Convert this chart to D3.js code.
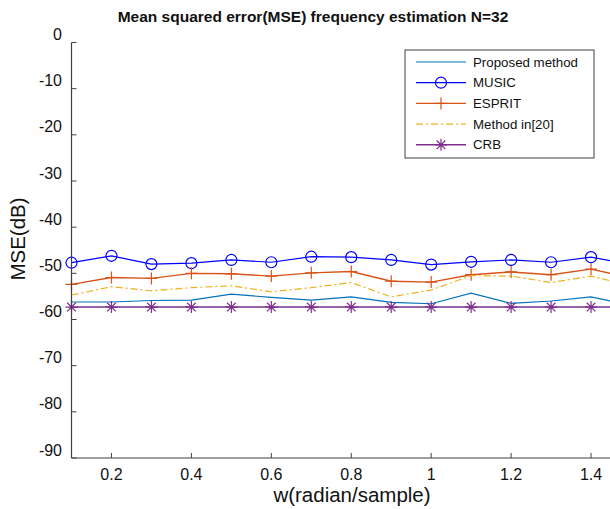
<!DOCTYPE html>
<html><head><meta charset="utf-8">
<script src="https://cdn.jsdelivr.net/npm/d3@7"></script>
<style>body{margin:0;background:#fff}svg{display:block}</style>
</head><body><svg id="c" width="610" height="509"></svg>
<script>
const w = [0.1,0.2,0.3,0.4,0.5,0.6,0.7,0.8,0.9,1.0,1.1,1.2,1.3,1.4,1.5];
const proposed = [-56.2,-56.2,-55.9,-55.8,-54.5,-55.2,-55.8,-55.1,-56.3,-56.6,-54.3,-56.5,-56.0,-55.1,-56.9];
const music    = [-47.7,-46.2,-48.0,-47.8,-47.1,-47.6,-46.4,-46.5,-47.1,-48.1,-47.5,-47.1,-47.6,-46.5,-48.1];
const esprit   = [-52.4,-50.9,-51.1,-50.0,-50.1,-50.6,-49.9,-49.6,-51.7,-51.9,-50.3,-49.7,-50.3,-49.1,-51.0];
const method20 = [-54.7,-52.9,-53.8,-53.1,-52.7,-54.0,-53.1,-52.0,-55.1,-53.6,-50.5,-50.6,-52.0,-50.6,-52.7];
const crb      = [-57.3,-57.3,-57.3,-57.3,-57.3,-57.3,-57.3,-57.3,-57.3,-57.3,-57.3,-57.3,-57.3,-57.3,-57.3];
const seriesNames = ["Proposed method","MUSIC","ESPRIT","Method in[20]","CRB"];
const xTicks = [0.2,0.4,0.6,0.8,1.0,1.2,1.4];
const yTicks = [0,-10,-20,-30,-40,-50,-60,-70,-80,-90];
const titleText = "Mean squared error(MSE) frequency estimation N=32";
const xLabel = "w(radian/sample)";
const yLabel = "MSE(dB)";

const svg = d3.select("#c");
const x = d3.scaleLinear().domain([0.1,1.5]).range([71.5,631]);
const y = d3.scaleLinear().domain([-90,0]).range([458,42.5]);
const font = "'Liberation Sans', Arial, sans-serif";
const axisColor = "#404040";

const series = [
  {name:seriesNames[0], data:proposed, color:"#0072BD", width:1.1, dash:null, marker:null},
  {name:seriesNames[1], data:music, color:"#0000FF", width:1.2, dash:null, marker:"circle"},
  {name:seriesNames[2], data:esprit, color:"#D95319", width:1.4, dash:null, marker:"plus"},
  {name:seriesNames[3], data:method20, color:"#EDB120", width:1.2, dash:"7,3,2,3", marker:null},
  {name:seriesNames[4], data:crb, color:"#7E2F8E", width:1.4, dash:null, marker:"star"}
];

const plot = svg.append("g");
const line = d3.line().x(d=>x(d[0])).y(d=>y(d[1]));

function drawMarker(g, type, cx, cy, color){
  if(type==="circle"){
    g.append("circle").attr("cx",cx).attr("cy",cy).attr("r",5.5)
      .attr("fill","none").attr("stroke",color).attr("stroke-width",1.2);
  } else if(type==="plus"){
    g.append("path").attr("d",`M${cx-6},${cy}H${cx+6}M${cx},${cy-6}V${cy+6}`)
      .attr("stroke",color).attr("stroke-width",1.2).attr("fill","none");
  } else if(type==="star"){
    const r=6, d=r*0.72;
    g.append("path").attr("d",`M${cx-r},${cy}H${cx+r}M${cx},${cy-r}V${cy+r}M${cx-d},${cy-d}L${cx+d},${cy+d}M${cx-d},${cy+d}L${cx+d},${cy-d}`)
      .attr("stroke",color).attr("stroke-width",1.2).attr("fill","none");
  }
}

series.forEach(s=>{
  const pts = w.map((v,i)=>[v,s.data[i]]);
  plot.append("path").attr("d",line(pts)).attr("fill","none")
    .attr("stroke",s.color).attr("stroke-width",s.width)
    .attr("stroke-dasharray",s.dash);
  if(s.marker){
    pts.forEach(p=>drawMarker(plot,s.marker,x(p[0]),y(p[1]),s.color));
  }
});

// axes
const ax = svg.append("g");
ax.append("line").attr("x1",x(0.1)).attr("x2",x(0.1)).attr("y1",y(0)).attr("y2",y(-90))
  .attr("stroke",axisColor).attr("stroke-width",1.2);
ax.append("line").attr("x1",x(0.1)).attr("x2",630).attr("y1",y(-90)).attr("y2",y(-90))
  .attr("stroke",axisColor).attr("stroke-width",1.2);
yTicks.forEach(t=>{
  ax.append("line").attr("x1",x(0.1)).attr("x2",x(0.1)+5).attr("y1",y(t)).attr("y2",y(t))
    .attr("stroke",axisColor).attr("stroke-width",1);
  ax.append("text").attr("x",62).attr("y",y(t)-2.5 + 0).attr("text-anchor","end")
    .attr("font-family",font).attr("font-size",16).attr("fill","#111").text(t);
});
xTicks.forEach(t=>{
  ax.append("line").attr("x1",x(t)).attr("x2",x(t)).attr("y1",y(-90)).attr("y2",y(-90)-5)
    .attr("stroke",axisColor).attr("stroke-width",1);
  ax.append("text").attr("x",x(t)).attr("y",480).attr("text-anchor","middle")
    .attr("font-family",font).attr("font-size",16).attr("fill","#111").text(d3.format("~g")(t));
});

// labels
svg.append("text").attr("x",313).attr("y",22).attr("text-anchor","middle")
  .attr("font-family",font).attr("font-weight","bold").attr("font-size",15.5).attr("fill","#111").text(titleText);
svg.append("text").attr("x",352).attr("y",502).attr("text-anchor","middle")
  .attr("font-family",font).attr("font-size",20.5).attr("fill","#111").text(xLabel);
svg.append("text").attr("transform","translate(25,239) rotate(-90)").attr("text-anchor","middle")
  .attr("font-family",font).attr("font-size",20.5).attr("fill","#111").text(yLabel);

// legend
const lg = svg.append("g");
lg.append("rect").attr("x",405).attr("y",50).attr("width",189).attr("height",108)
  .attr("fill","#fff").attr("stroke",axisColor).attr("stroke-width",1);
series.forEach((s,i)=>{
  const ly = 62 + i*20.7;
  lg.append("line").attr("x1",416).attr("x2",466).attr("y1",ly).attr("y2",ly)
    .attr("stroke",s.color).attr("stroke-width",s.width).attr("stroke-dasharray",s.dash);
  if(s.marker) drawMarker(lg,s.marker,441,ly,s.color);
  lg.append("text").attr("x",473).attr("y",ly+4.5).attr("font-family",font)
    .attr("font-size",13.3).attr("fill","#111").text(s.name);
});
</script></body></html>
